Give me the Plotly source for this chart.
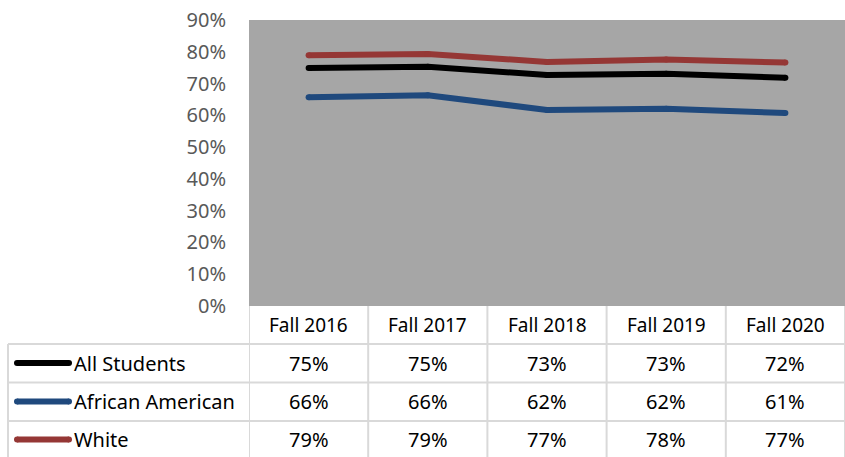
import plotly.graph_objects as go

categories = ["Fall 2016", "Fall 2017", "Fall 2018", "Fall 2019", "Fall 2020"]
series_names = ["All Students", "African American", "White"]
all_students = [74.9, 75.3, 72.7, 73.1, 71.8]
african_american = [65.7, 66.3, 61.7, 62.1, 60.7]
white = [78.9, 79.3, 76.8, 77.6, 76.6]
series_values = [all_students, african_american, white]
series_colors = ["#000000", "#1F497D", "#953735"]
y_ticks = [0, 10, 20, 30, 40, 50, 60, 70, 80, 90]
y_tick_labels = [f"{v}%" for v in y_ticks]

W, H = 845, 457
L, R, T, B = 249, 845, 20, 306  # plot area in pixels
PW, PH = R - L, B - T


def px_x(px):
    return (px - L) / PW


def px_y(py):
    return (B - py) / PH


FONT = "Noto Sans"
GRID = "#D9D9D9"
TS = 19

fig = go.Figure()
xs = list(range(len(categories)))
for name, vals, col in zip(series_names, series_values, series_colors):
    fig.add_trace(go.Scatter(
        x=xs, y=vals, mode="lines+markers", name=name,
        line=dict(color=col, width=6),
        marker=dict(color=col, size=6),
        showlegend=False, hoverinfo="skip",
    ))

shapes = []
annotations = []

header_top = 306
row_lines = [344, 382.5, 421, 457]
left_edge = 8

for yl in row_lines[0:3]:
    shapes.append(dict(type="line", xref="paper", yref="paper",
                       x0=px_x(left_edge), x1=px_x(845), y0=px_y(yl), y1=px_y(yl),
                       line=dict(color=GRID, width=2)))
for i in range(len(categories) + 1):
    shapes.append(dict(type="line", xref="x", yref="paper",
                       x0=i - 0.5, x1=i - 0.5, y0=px_y(header_top), y1=px_y(460),
                       line=dict(color=GRID, width=2)))
shapes.append(dict(type="line", xref="paper", yref="paper",
                   x0=px_x(left_edge), x1=px_x(left_edge), y0=px_y(row_lines[0]), y1=px_y(460),
                   line=dict(color=GRID, width=2)))

for i, c in enumerate(categories):
    annotations.append(dict(x=i, y=px_y(325), xref="x", yref="paper", text=c,
                            showarrow=False, font=dict(family=FONT, size=TS, color="#000000"),
                            xanchor="center", yanchor="middle"))

row_centers = [363, 401.5, 439.5]
for r, (name, vals, col) in enumerate(zip(series_names, series_values, series_colors)):
    yc = px_y(row_centers[r])
    shapes.append(dict(type="line", xref="paper", yref="paper",
                       x0=px_x(17), x1=px_x(69), y0=yc, y1=yc,
                       line=dict(color=col, width=6)))
    for ex in (17, 69):
        shapes.append(dict(type="circle", xref="paper", yref="paper",
                           x0=px_x(ex - 3), x1=px_x(ex + 3),
                           y0=px_y(row_centers[r] + 3), y1=px_y(row_centers[r] - 3),
                           fillcolor=col, line=dict(width=0)))
    annotations.append(dict(x=px_x(72), y=yc, xref="paper", yref="paper", text=name,
                            showarrow=False, font=dict(family=FONT, size=TS + 1, color="#000000"),
                            xanchor="left", yanchor="middle"))
    for i, v in enumerate(vals):
        annotations.append(dict(x=i, y=yc, xref="x", yref="paper", text=f"{round(v)}%",
                                showarrow=False, font=dict(family=FONT, size=TS + 1, color="#000000"),
                                xanchor="center", yanchor="middle"))

fig.update_layout(
    width=W, height=H,
    margin=dict(l=L, r=W - R, t=T, b=H - B, pad=0),
    paper_bgcolor="#FFFFFF",
    plot_bgcolor="#A6A6A6",
    shapes=shapes,
    annotations=annotations,
    xaxis=dict(range=[-0.5, len(categories) - 0.5], showticklabels=False, showgrid=False,
               zeroline=False, showline=False, ticks="", fixedrange=True),
    yaxis=dict(range=[0, 90], tickvals=y_ticks, ticktext=y_tick_labels, showgrid=False,
               zeroline=False, showline=False, ticks="", ticklabelstandoff=22,
               tickfont=dict(family=FONT, size=20, color="#595959"), fixedrange=True),
)

fig.write_html("out.html", config={"displayModeBar": False},
               post_script="document.body.style.margin='0';document.body.style.overflow='hidden';")
